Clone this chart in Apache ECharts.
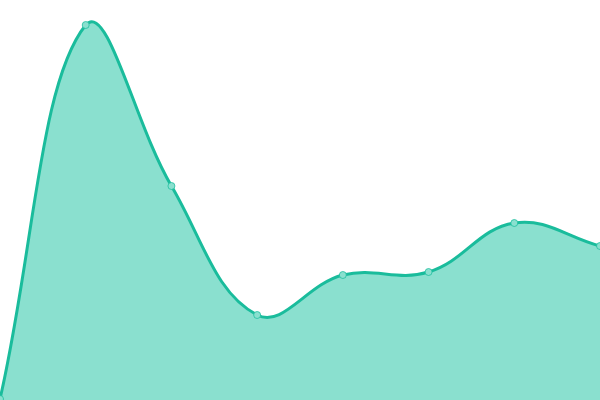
<!DOCTYPE html>
<html><head><meta charset="utf-8">
<script src="https://cdn.jsdelivr.net/npm/echarts@6/dist/echarts.min.js"></script>
<style>html,body{margin:0;padding:0;background:#fff}#c{width:600px;height:400px}</style>
</head><body><div id="c"></div>
<script>
const categories = ['1','2','3','4','5','6','7','8'];
const values = [1, 375, 214, 85, 125, 128, 177, 154];
const TENSION = 0.4;

function splinePaths(pts, cs, bottomY) {
  const n = pts.length;
  const cps = pts.map((p, i) => {
    const prev = pts[Math.max(0, i - 1)], next = pts[Math.min(n - 1, i + 1)];
    const d01 = Math.hypot(p[0] - prev[0], p[1] - prev[1]);
    const d12 = Math.hypot(next[0] - p[0], next[1] - p[1]);
    const sum = d01 + d12 || 1;
    const fa = TENSION * d01 / sum, fb = TENSION * d12 / sum;
    const clampX = v => Math.min(cs.x + cs.width, Math.max(cs.x, v));
    const clampY = v => Math.min(cs.y + cs.height, Math.max(cs.y, v));
    return {
      prev: [clampX(p[0] - fa * (next[0] - prev[0])), clampY(p[1] - fa * (next[1] - prev[1]))],
      next: [clampX(p[0] + fb * (next[0] - prev[0])), clampY(p[1] + fb * (next[1] - prev[1]))]
    };
  });
  let d = 'M' + pts[0][0] + ' ' + pts[0][1];
  for (let i = 1; i < n; i++) {
    const a = cps[i - 1].next, b = cps[i].prev, p = pts[i];
    d += ' C' + a[0] + ' ' + a[1] + ' ' + b[0] + ' ' + b[1] + ' ' + p[0] + ' ' + p[1];
  }
  const area = d + ' L' + pts[n - 1][0] + ' ' + bottomY + ' L' + pts[0][0] + ' ' + bottomY + ' Z';
  return {line: d, area: area};
}

const chart = echarts.init(document.getElementById('c'));
chart.setOption({
  animation: false,
  grid: {left: 0, right: 0, top: 0, bottom: 0},
  xAxis: {type: 'category', data: categories, boundaryGap: false, show: false},
  yAxis: {type: 'value', min: 0, max: 400, show: false},
  series: [{
    type: 'custom',
    data: values.map((v, i) => [i, v]),
    encode: {x: 0, y: 1},
    clip: false,
    renderItem: function (params, api) {
      if (params.dataIndex !== 0) return;
      const pts = values.map((v, i) => api.coord([i, v]));
      const bottomY = api.coord([0, 0])[1];
      const p = splinePaths(pts, params.coordSys, bottomY);
      return {
        type: 'group',
        children: [
          {type: 'path', shape: {pathData: p.area}, style: {fill: '#8ae0cf', stroke: null}},
          {type: 'path', shape: {pathData: p.line}, style: {fill: null, stroke: '#1abc9c', lineWidth: 3}}
        ]
      };
    }
  }, {
    type: 'scatter',
    data: values.map((v, i) => [i, v]),
    symbol: 'circle',
    symbolSize: 7,
    z: 5,
    itemStyle: {color: '#8ae0cf', borderColor: 'rgba(26,188,156,0.75)', borderWidth: 1, opacity: 1}
  }]
});
</script></body></html>
